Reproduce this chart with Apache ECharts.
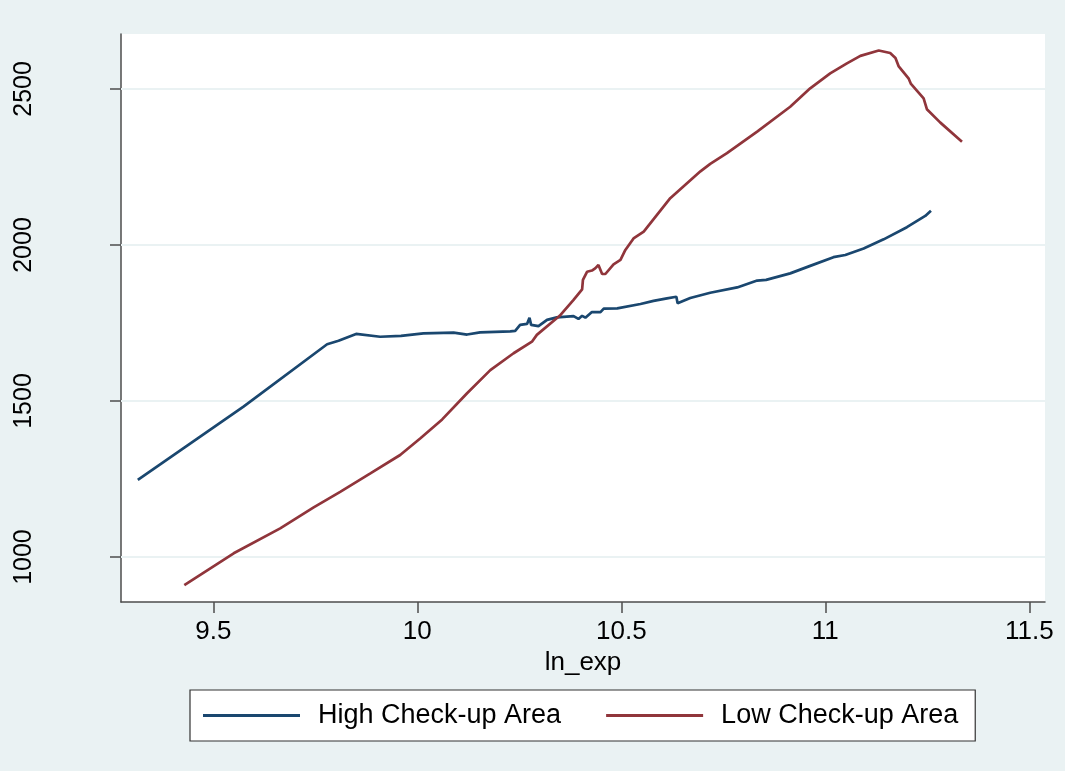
<!DOCTYPE html>
<html>
<head>
<meta charset="utf-8">
<script src="https://cdn.jsdelivr.net/npm/echarts@6/dist/echarts.min.js"></script>
<style>
html,body{margin:0;padding:0;background:#EAF2F3;}
#chart{width:1065px;height:771px;}
</style>
</head>
<body>
<div id="chart"></div>
<script>
const seriesNames = ['High Check-up Area', 'Low Check-up Area'];
const xTicks = [9.5, 10, 10.5, 11, 11.5];
const yTicks = [1000, 1500, 2000, 2500];

const highX = [9.315, 9.574, 9.779, 9.807, 9.850, 9.909, 9.960, 10.015, 10.089, 10.122, 10.154, 10.228, 10.240, 10.252, 10.269, 10.275, 10.279, 10.297, 10.318, 10.342, 10.383, 10.395, 10.404, 10.412, 10.428, 10.449, 10.457, 10.490, 10.547, 10.579, 10.612, 10.635, 10.638, 10.669, 10.718, 10.784, 10.833, 10.855, 10.914, 10.963, 11.020, 11.049, 11.094, 11.143, 11.200, 11.245, 11.259];
const highY = [1247, 1482, 1682, 1693, 1715, 1706, 1709, 1717, 1719, 1713, 1720, 1723, 1725, 1744, 1747, 1767, 1744, 1740, 1760, 1768, 1772, 1763, 1773, 1767, 1785, 1785, 1796, 1797, 1811, 1821, 1829, 1834, 1813, 1830, 1847, 1864, 1886, 1888, 1909, 1933, 1961, 1968, 1989, 2018, 2057, 2093, 2110];

const lowX = [9.429, 9.550, 9.664, 9.746, 9.811, 9.885, 9.958, 10.007, 10.061, 10.122, 10.179, 10.236, 10.281, 10.293, 10.349, 10.383, 10.404, 10.406, 10.416, 10.428, 10.436, 10.444, 10.453, 10.461, 10.481, 10.498, 10.510, 10.530, 10.555, 10.620, 10.694, 10.718, 10.759, 10.833, 10.914, 10.963, 11.012, 11.053, 11.086, 11.131, 11.159, 11.172, 11.180, 11.204, 11.210, 11.241, 11.249, 11.282, 11.335];
const lowY = [910, 1012, 1092, 1159, 1209, 1268, 1327, 1380, 1441, 1525, 1599, 1653, 1690, 1712, 1773, 1824, 1858, 1888, 1914, 1918, 1925, 1936, 1907, 1907, 1938, 1952, 1984, 2021, 2043, 2150, 2236, 2260, 2294, 2363, 2443, 2502, 2550, 2582, 2606, 2623, 2615, 2599, 2572, 2534, 2516, 2470, 2435, 2392, 2331];

const zip = (xs, ys) => xs.map((x, i) => [x, ys[i]]);
const FONT = '"Liberation Sans", Arial, sans-serif';

const chart = echarts.init(document.getElementById('chart'));
chart.setOption({
  backgroundColor: '#EAF2F3',
  animation: false,
  grid: {
    left: 121, right: 20, top: 34, bottom: 169,
    show: true, backgroundColor: '#FFFFFF', borderWidth: 0
  },
  xAxis: {
    type: 'value',
    min: 9.2738, max: 11.5385,
    name: 'ln_exp',
    nameLocation: 'middle',
    nameGap: 48,
    nameTextStyle: { fontFamily: FONT, fontSize: 26, color: '#000' },
    axisLine: { show: true, onZero: false, lineStyle: { color: '#4D4D4D', width: 1.5 } },
    axisTick: { show: true, customValues: xTicks, length: 11, lineStyle: { color: '#4D4D4D', width: 1.5 } },
    axisLabel: { customValues: xTicks, fontFamily: FONT, fontSize: 26, color: '#000', margin: 17,
      formatter: v => String(v) },
    splitLine: { show: false }
  },
  yAxis: {
    type: 'value',
    min: 856, max: 2676,
    axisLine: { show: true, onZero: false, lineStyle: { color: '#4D4D4D', width: 1.5 } },
    axisTick: { show: true, customValues: yTicks, length: 11, lineStyle: { color: '#4D4D4D', width: 1.5 } },
    axisLabel: { customValues: yTicks, rotate: 90, fontFamily: FONT, fontSize: 25, color: '#000', margin: 84,
      formatter: v => String(v) },
    splitLine: { show: false }
  },
  legend: {
    left: 190, top: 690,
    data: seriesNames,
    icon: 'rect',
    itemWidth: 97, itemHeight: 3,
    itemGap: 45,
    backgroundColor: '#FFFFFF',
    borderColor: '#333333', borderWidth: 1.2,
    padding: [12, 17, 12, 13],
    textStyle: { fontFamily: FONT, fontSize: 27, color: '#000', padding: [0, 0, 0, 13] }
  },
  series: [
    {
      name: seriesNames[0], type: 'line', symbol: 'none',
      data: zip(highX, highY),
      lineStyle: { color: '#1A476F', width: 2.7 },
      itemStyle: { color: '#1A476F' },
      z: 3,
      markLine: {
        silent: true, symbol: 'none', label: { show: false },
        lineStyle: { color: '#EAF2F3', width: 2, type: 'solid' },
        data: yTicks.map(v => ({ yAxis: v })),
        z: 1
      }
    },
    {
      name: seriesNames[1], type: 'line', symbol: 'none',
      data: zip(lowX, lowY),
      lineStyle: { color: '#90353B', width: 2.7 },
      itemStyle: { color: '#90353B' },
      z: 3
    }
  ]
});
</script>
</body>
</html>
